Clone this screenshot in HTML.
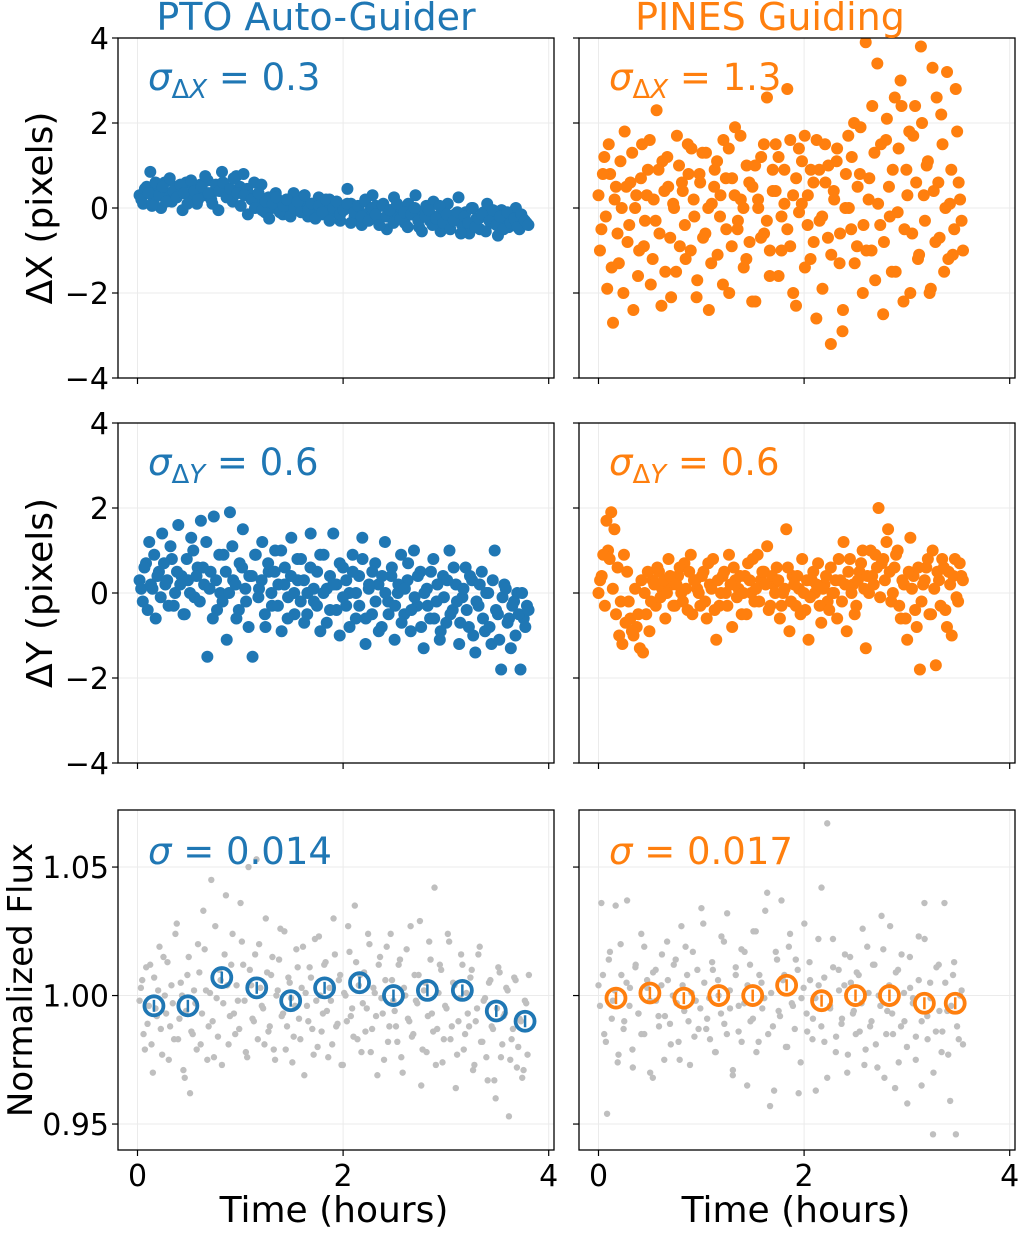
<!DOCTYPE html>
<html><head><meta charset="utf-8"><style>
html,body{margin:0;padding:0;background:#fff}
svg text{font-family:"DejaVu Sans","Liberation Sans",sans-serif}
</style></head><body>
<svg id="fig" width="1020" height="1228" viewBox="0 0 1020 1228" xmlns="http://www.w3.org/2000/svg"></svg>
<script>
// ---- data ----
const xTicks=[0,2,4];
const dTicks=[-4,-2,0,2,4];
const fTicks=[0.95,1.00,1.05];
// even frames
const dxPto=[0.3,0.1,0.5,0.85,0.2,0.4,0.0,0.6,0.3,0.15,0.5,0.35,-0.05,0.6,0.25,0.45,0.1,0.55,0.3,0.65,0.2,0.4,-0.05,0.85,0.5,0.3,0.15,0.75,0.5,0.8,0.45,0.3,0.6,0.2,0.55,-0.1,0.25,0.0,0.35,0.1,-0.15,0.2,0.05,0.35,-0.05,0.15,0.3,-0.2,0.1,0.0,0.25,-0.15,0.05,0.2,-0.1,0.15,-0.3,0.05,0.45,0.1,-0.2,0.0,-0.4,0.2,-0.1,0.3,0.05,-0.25,0.1,-0.5,-0.05,0.25,-0.2,0.0,-0.35,0.1,-0.15,0.3,-0.45,-0.1,0.05,-0.3,0.15,-0.2,-0.55,-0.05,0.1,-0.3,-0.15,0.25,-0.4,-0.1,-0.6,0.0,-0.25,-0.5,-0.1,0.1,-0.35,-0.2,-0.65,-0.05,-0.3,-0.45,-0.15,0.0,-0.5,-0.25,-0.35];
const dxPines=[0.3,-0.5,1.2,-1.9,0.8,-2.7,0.5,-1.3,0.0,1.8,-0.8,0.6,-2.4,0.3,-1.0,1.5,-0.3,0.9,-1.8,0.2,2.3,-0.6,1.1,-1.5,0.5,-2.1,0.0,1.7,-0.9,0.4,-1.2,0.8,1.4,-0.2,-1.7,0.6,-0.7,1.3,-2.4,0.1,0.9,-1.1,0.3,1.6,-0.5,-2.0,0.7,1.9,-0.3,0.2,-1.4,1.0,-0.8,0.5,-2.2,0.0,1.2,-0.6,2.6,-1.0,0.4,1.5,-1.6,-0.2,0.9,2.8,-0.9,0.3,-2.3,1.4,0.1,1.7,-0.4,-1.2,0.6,-2.6,0.9,-0.2,1.5,-0.7,-3.2,0.4,1.1,-1.3,-2.9,0.0,1.7,-0.5,2.0,-0.9,0.8,-2.0,3.9,0.2,-1.0,1.3,3.4,-0.4,-2.5,1.6,0.5,-1.5,2.6,-0.1,3.0,-2.2,0.9,1.8,-0.6,2.4,-1.2,3.8,0.3,1.0,-2.0,3.3,-0.8,0.6,2.2,-1.5,3.2,0.1,-1.1,2.8,0.6,-0.3];
const dyPto=[0.3,-0.2,0.7,1.2,0.1,-0.6,0.5,1.4,0.2,-0.3,0.8,0.0,1.6,0.4,-0.5,0.3,1.3,-0.1,0.6,1.7,0.2,-1.5,0.5,1.8,-0.4,0.0,0.9,-1.1,1.9,0.3,-0.6,0.7,1.5,-0.2,0.4,-1.5,0.9,0.1,1.2,-0.8,0.5,-0.3,1.0,0.2,-0.9,0.6,-0.1,1.3,-0.5,0.3,0.8,-0.7,0.0,1.4,-0.2,0.5,-0.9,0.9,0.1,-0.4,1.4,0.2,-1.0,0.6,-0.3,0.0,0.9,-0.6,0.4,1.3,-1.2,0.1,-0.5,0.7,0.2,-0.8,1.2,-0.2,0.4,-1.1,0.0,0.9,-0.5,0.3,-0.9,1.0,-0.3,0.5,-1.3,0.1,-0.6,0.8,-0.2,-1.1,0.4,-0.7,1.0,-0.4,0.2,-1.2,-0.1,0.6,-0.8,0.3,-1.4,-0.3,0.5,-0.9,0.0,-1.2,1.0,-0.5,-1.8,0.2,-0.7,-1.3,-0.2,0.0,-1.8,-0.6,-0.3];
const dyPines=[0.0,0.4,-0.3,1.0,1.9,1.5,0.6,-0.2,0.9,0.5,-0.6,-1.0,-0.8,-1.3,-1.4,-0.5,-0.9,0.3,-0.3,0.5,0.1,-0.6,0.8,0.2,-0.3,0.4,0.0,0.7,-0.4,0.9,0.3,0.1,-0.3,0.5,-0.6,0.2,0.8,-1.1,-0.3,0.4,0.0,0.9,-0.8,0.3,0.1,-0.5,0.4,0.7,0.0,-0.2,0.9,0.3,0.5,1.1,-0.3,0.2,0.6,-0.6,0.0,1.5,-0.9,0.4,-0.3,0.1,0.8,-0.4,-1.1,0.3,0.0,0.7,-0.7,0.2,-0.2,0.6,0.0,-0.6,0.3,1.2,-0.9,0.8,0.2,-0.3,0.5,1.0,-1.3,0.0,0.4,0.9,2.0,0.7,0.3,1.5,-0.2,0.6,1.0,-0.6,0.2,-1.1,1.3,0.4,-0.8,-1.8,0.2,0.6,-0.5,1.0,-1.7,0.3,0.8,-0.4,0.5,-1.0,0.8,-0.2,0.4];
const fluxPto=[0.998,1.006,0.979,0.989,1.012,0.970,0.995,1.002,0.987,1.015,0.993,0.975,1.004,0.983,1.028,0.991,1.000,0.968,1.008,0.962,0.985,0.997,1.020,0.981,1.033,1.002,0.988,1.045,0.976,0.999,1.010,0.973,1.016,1.004,0.992,1.024,0.985,0.998,1.036,1.012,0.978,1.050,1.004,0.990,1.053,1.020,0.996,0.981,1.009,0.988,1.015,0.975,1.002,1.026,0.993,0.979,1.007,0.999,0.984,1.018,0.991,1.003,0.969,0.996,1.011,0.987,1.022,0.980,1.000,0.993,1.013,0.976,0.998,1.030,0.988,1.006,0.973,1.001,0.990,1.017,0.995,1.035,0.983,1.008,0.997,0.986,1.024,0.978,1.003,0.992,1.012,0.999,0.975,1.019,0.988,1.006,0.994,0.982,1.014,0.970,1.000,0.991,1.027,0.985,0.998,1.008,0.965,1.002,0.978,1.021,0.993,1.042,0.987,1.012,0.974,0.996,1.024,0.983,1.005,0.964,0.990,1.016,0.979,1.001,0.988,1.010,0.973,0.995,1.019,0.982,0.999,0.967,1.006,0.987,0.960,1.011,0.976,0.992,1.003,0.953,0.983,1.007,0.972,0.991,0.968,0.998,0.977];
const fluxPines=[1.004,1.036,0.985,0.954,1.017,0.998,1.035,0.977,1.008,0.990,1.037,1.003,0.972,1.012,0.993,0.985,1.019,1.006,0.998,0.968,1.010,0.992,1.004,0.975,1.021,0.989,1.000,1.014,0.982,1.027,0.994,1.008,0.973,1.017,0.998,0.987,1.034,1.005,0.991,0.983,1.010,0.978,1.000,1.023,0.989,1.032,0.995,0.971,1.008,0.986,1.018,0.997,0.965,1.012,0.991,1.025,0.982,1.005,0.999,1.040,0.957,0.988,1.017,0.994,1.037,1.008,0.980,1.024,0.996,1.014,0.962,0.999,1.028,0.986,1.006,0.991,0.963,1.004,1.042,0.982,1.067,0.996,1.022,0.978,1.010,0.989,1.004,0.970,1.015,0.993,0.985,1.008,0.997,0.973,1.019,0.988,1.012,0.981,1.000,1.031,0.968,0.994,1.027,0.985,1.009,0.974,1.016,0.990,0.958,1.003,0.999,0.984,1.023,0.965,1.036,0.992,1.005,0.946,0.986,1.012,0.978,1.036,0.994,0.959,1.008,0.946,0.983,1.002];
// odd frames
const dxPtoB=[0.2,0.45,0.35,0.05,0.6,0.3,0.5,0.15,0.7,0.4,0.25,0.55,0.35,0.1,0.65,0.4,0.2,0.5,0.75,0.35,0.1,0.55,0.4,0.6,0.25,0.45,0.7,0.35,0.05,0.3,-0.15,0.2,0.0,0.35,-0.05,0.15,-0.25,0.1,0.25,-0.1,0.05,0.2,-0.2,0.0,0.15,-0.1,0.3,-0.05,0.1,-0.25,0.05,-0.1,0.2,-0.3,0.0,0.15,-0.15,-0.05,0.1,-0.35,-0.1,0.05,-0.2,0.15,-0.3,0.0,-0.15,-0.4,0.05,-0.2,-0.05,-0.35,0.1,-0.25,-0.1,-0.45,-0.15,0.0,-0.3,-0.55,-0.2,-0.05,-0.4,-0.25,0.05,-0.35,-0.15,-0.5,-0.3,-0.1,-0.6,-0.2,-0.35,0.0,-0.45,-0.25,-0.15,-0.55,-0.3,-0.05,-0.4,-0.2,-0.5,-0.1,-0.35,-0.25,-0.45,-0.15,-0.3,-0.4];
const dxPinesB=[-1.0,0.8,-0.2,1.5,-1.4,0.2,-0.6,1.1,-2.0,0.5,-0.4,1.3,0.0,-1.6,0.7,-0.9,0.3,1.6,-1.2,-0.3,0.9,-2.3,0.4,1.2,-0.7,0.1,-1.5,1.0,0.6,-0.4,1.5,-1.0,0.2,-2.1,0.8,1.3,-0.6,0.0,-1.3,0.5,1.1,-0.2,-1.8,0.7,1.4,-0.9,0.3,-0.5,1.7,0.0,-1.2,0.6,-2.2,1.0,0.2,-0.7,1.5,-0.3,-1.6,0.9,0.4,1.2,-1.0,0.1,-0.5,1.6,-2.0,0.7,-0.1,1.1,-1.4,0.3,0.9,-0.8,1.6,-0.3,-1.9,0.6,1.0,-1.1,0.2,1.4,-0.6,-2.4,0.8,0.0,1.2,-1.3,0.5,1.9,-0.4,-1.0,0.7,2.4,-1.7,0.1,1.5,-0.8,2.1,-0.2,0.9,-1.5,1.4,2.4,-0.5,0.3,-2.0,1.7,0.6,-1.1,2.0,-0.3,1.1,-1.9,0.4,2.6,-0.7,1.5,0.0,-1.2,0.9,-0.5,1.8,0.2,-1.0];
const dyPtoB=[0.1,0.6,-0.4,0.2,0.9,0.4,-0.1,0.7,0.3,1.1,-0.3,0.5,0.2,-0.5,0.8,0.0,1.0,0.4,-0.2,0.6,1.2,0.1,-0.6,0.3,0.9,-0.2,0.5,0.0,1.1,0.2,-0.4,0.6,0.1,-0.8,0.4,0.9,-0.1,0.3,-0.5,0.7,0.0,0.5,-0.3,1.0,0.2,-0.6,0.4,0.0,0.8,-0.2,0.3,-0.5,0.6,0.1,-0.3,0.9,0.0,-0.7,0.4,0.2,-0.4,0.7,-0.1,0.3,-0.8,0.5,0.0,-0.3,0.8,-0.6,0.2,0.5,-0.2,-0.9,0.4,0.0,-0.5,0.6,-0.3,0.2,-0.7,0.1,0.7,-0.4,-0.1,0.4,-0.8,0.0,-0.3,0.5,-0.6,0.2,-0.9,-0.1,0.3,-0.5,0.6,-0.2,-0.7,0.1,-0.4,0.4,-1.0,-0.2,0.2,-0.6,0.0,-0.8,0.3,-0.4,-1.1,-0.1,0.1,-0.6,-0.3,-1.0,-0.5,0.0,-0.8,-0.4];
const dyPinesB=[0.3,0.9,1.7,0.8,0.1,-0.5,-1.0,-1.2,-0.7,-0.2,-0.9,0.1,-0.5,0.3,0.0,0.5,-0.2,0.2,0.6,-0.1,0.3,0.0,0.4,-0.3,0.2,0.6,-0.2,0.1,0.5,-0.5,0.3,0.0,0.4,-0.2,0.7,0.1,-0.4,0.3,0.0,0.5,-0.3,0.2,0.6,-0.1,0.4,0.0,-0.5,0.3,0.8,0.1,-0.2,0.5,0.2,-0.4,0.4,0.0,0.3,-0.3,0.1,0.6,-0.2,0.2,0.4,-0.5,0.0,0.3,-0.1,0.5,0.2,-0.3,0.1,0.4,-0.4,0.0,0.3,0.8,-0.2,0.2,0.5,0.0,-0.5,0.3,0.7,0.1,0.4,1.0,0.2,0.6,-0.1,0.8,1.2,0.5,0.0,0.9,-0.3,0.3,-0.6,0.5,0.1,-0.4,0.6,-0.2,0.3,0.8,-0.5,0.1,0.5,-0.3,0.6,-0.8,0.2,0.4,-0.1,0.7,0.3];
const fluxPtoB=[1.003,0.985,1.011,0.996,0.981,1.007,0.992,1.019,0.977,1.000,1.013,0.988,0.997,1.024,0.983,1.005,0.971,0.994,1.015,0.986,1.002,0.979,1.009,0.993,1.018,0.975,1.001,0.990,1.027,0.984,1.006,0.997,1.039,0.981,1.012,0.993,1.004,0.987,1.021,0.998,0.976,1.010,0.991,1.016,0.983,1.003,0.995,1.030,0.986,1.008,0.979,1.000,1.014,0.992,1.025,0.988,1.005,0.974,0.996,1.011,0.983,1.019,1.001,0.990,1.007,0.977,0.998,1.023,0.986,1.012,0.994,1.003,0.981,1.016,0.989,1.008,0.973,1.000,1.027,0.992,0.984,1.013,1.004,0.978,1.009,0.995,1.020,0.987,1.001,0.969,1.015,0.993,1.006,0.982,1.024,0.998,0.988,1.012,0.976,1.003,1.018,0.990,0.984,1.008,0.997,1.029,0.979,1.005,0.992,1.014,0.986,0.973,1.001,1.010,0.983,0.995,1.021,0.988,1.004,0.977,0.999,1.012,0.985,0.993,1.007,0.971,0.990,1.016,0.982,0.998,0.976,1.005,0.988,0.967,0.995,1.009,0.981,0.993,1.002,0.975,0.987,1.006,0.980,0.990,0.971,0.997,1.008];
const fluxPinesB=[0.996,1.008,0.982,1.014,0.991,1.002,0.974,1.020,0.987,1.005,0.996,0.979,1.011,0.993,1.024,0.985,1.003,0.970,1.009,0.998,0.988,1.016,0.992,1.006,0.981,1.012,0.997,0.975,1.004,1.019,0.990,1.001,0.984,1.010,0.995,1.028,0.987,0.999,1.013,0.978,1.006,0.993,1.021,0.985,1.002,0.969,1.011,0.996,0.982,1.017,1.004,0.990,1.025,0.978,1.008,0.995,1.033,0.985,1.001,0.963,1.014,0.992,1.006,0.980,1.019,0.997,0.987,1.010,0.974,1.003,0.993,1.013,0.983,0.999,1.022,0.988,1.007,0.968,0.995,1.011,0.984,1.002,0.991,1.016,0.977,1.005,0.994,1.009,0.986,1.026,0.979,1.001,0.990,1.012,0.972,0.996,1.018,0.985,1.004,0.993,0.964,1.010,0.988,1.001,0.980,1.015,0.997,0.975,1.006,0.990,1.022,0.983,0.999,0.970,1.011,0.994,0.986,1.005,0.977,0.996,1.013,0.988,1.000,0.981];
const binPtoT=[0.16,0.49,0.82,1.16,1.49,1.82,2.16,2.49,2.82,3.16,3.49,3.77];
const binPtoV=[0.996,0.996,1.007,1.003,0.998,1.003,1.005,1.000,1.002,1.002,0.994,0.990];
const binPinesT=[0.17,0.5,0.83,1.17,1.5,1.83,2.17,2.5,2.83,3.17,3.47];
const binPinesV=[0.999,1.001,0.999,1.000,1.000,1.004,0.998,1.000,1.000,0.997,0.997];
// observation time spans (hours)
const ptoSpan=[0.02,3.82];
const pinesSpan=[0.0,3.56];

const BLUE='#1f77b4', ORANGE='#ff7f0e';
const NS='http://www.w3.org/2000/svg';
const svg=document.getElementById('fig');
function mk(tag,attrs,parent){const e=document.createElementNS(NS,tag);for(const k in attrs)e.setAttribute(k,attrs[k]);(parent||svg).appendChild(e);return e;}

const cols=[{x0:118,x1:554},{x0:579,x1:1015}];
const rows=[{y0:38,y1:378,min:-4,max:4},{y0:423,y1:763,min:-4,max:4},{y0:810,y1:1150,min:0.9399,max:1.0722}];
function xs(c,t){const C=cols[c];const o=C.x0+19.5;return o+t*102.8;}
function ys(r,v){const R=rows[r];return R.y1-(v-R.min)/(R.max-R.min)*(R.y1-R.y0);}

const panels=[
 {r:0,c:0,sets:[dxPto,dxPtoB],span:ptoSpan,color:BLUE,name:'dx-pto'},
 {r:0,c:1,sets:[dxPines,dxPinesB],span:pinesSpan,color:ORANGE,name:'dx-pines'},
 {r:1,c:0,sets:[dyPto,dyPtoB],span:ptoSpan,color:BLUE,name:'dy-pto'},
 {r:1,c:1,sets:[dyPines,dyPinesB],span:pinesSpan,color:ORANGE,name:'dy-pines'},
 {r:2,c:0,sets:[fluxPto,fluxPtoB],span:ptoSpan,color:'#bfbfbf',name:'flux-pto'},
 {r:2,c:1,sets:[fluxPines,fluxPinesB],span:pinesSpan,color:'#bfbfbf',name:'flux-pines'}
];

panels.forEach(p=>{
  const C=cols[p.c],R=rows[p.r];
  const g=mk('g',{});
  
  
  const yt=p.r===2?fTicks:dTicks;
  xTicks.forEach(t=>{const l=mk('line',{x1:xs(p.c,t),x2:xs(p.c,t),y1:R.y0,y2:R.y1,stroke:'#ebebeb','stroke-width':1},g);
    });
  yt.forEach(v=>{const l=mk('line',{x1:C.x0,x2:C.x1,y1:ys(p.r,v),y2:ys(p.r,v),stroke:'#ebebeb','stroke-width':1},g);
    });
  const clipId='clip-'+p.name;
  const cp=mk('clipPath',{id:clipId},g);mk('rect',{x:C.x0,y:R.y0,width:C.x1-C.x0,height:R.y1-R.y0},cp);
  const pg=mk('g',{'clip-path':'url(#'+clipId+')'},g);
  
  
  p.sets.forEach((vals,si)=>{
    const n=vals.length, step=(p.span[1]-p.span[0])/n;
    vals.forEach((v,i)=>{
      const t=p.span[0]+(i+si*0.5)*step;
      const d=mk('circle',{cx:xs(p.c,t),cy:ys(p.r,v),r:p.r===2?3.2:6,fill:p.color},pg);
      
      
    });
  });
  if(p.r===2){
    const bt=p.c===0?binPtoT:binPinesT, bv=p.c===0?binPtoV:binPinesV, col=p.c===0?BLUE:ORANGE;
    bt.forEach((t,i)=>{
      const cx=xs(p.c,t),cy=ys(p.r,bv[i]);
      const e=mk('line',{x1:cx,x2:cx,y1:cy-6,y2:cy+6,stroke:col,'stroke-width':2.5},pg);
      
      const c=mk('circle',{cx:cx,cy:cy,r:9.5,fill:'none',stroke:col,'stroke-width':3.8},pg);
      
    });
  }
  const f=mk('rect',{x:C.x0,y:R.y0,width:C.x1-C.x0,height:R.y1-R.y0,fill:'none',stroke:'#000','stroke-width':1.3},g);
  
  xTicks.forEach(t=>{
    const x=xs(p.c,t);
    const l=mk('line',{x1:x,x2:x,y1:R.y1,y2:R.y1+6,stroke:'#000','stroke-width':1.2},g);
    
    if(p.r===2){const tx=mk('text',{x:x,y:R.y1+36,'font-size':30,'text-anchor':'middle'},g);tx.textContent=t;
      }
  });
  yt.forEach(v=>{
    const y=ys(p.r,v);
    const l=mk('line',{x1:C.x0-6,x2:C.x0,y1:y,y2:y,stroke:'#000','stroke-width':1.2},g);
    
    if(p.c===0){const tx=mk('text',{x:C.x0-9,y:y+11,'font-size':30,'text-anchor':'end'},g);
      tx.textContent=p.r===2?v.toFixed(2):(v<0?'\u2212'+(-v):String(v));
      }
  });
});

svg.insertAdjacentHTML('beforeend',`
<text x="316" y="30" font-size="38" fill="#1f77b4" text-anchor="middle">PTO Auto-Guider</text>
<text x="770" y="30" font-size="38" fill="#ff7f0e" text-anchor="middle">PINES Guiding</text>
<text transform="translate(52,208) rotate(-90)" font-size="36" text-anchor="middle">ΔX (pixels)</text>
<text transform="translate(52,593) rotate(-90)" font-size="36" text-anchor="middle">ΔY (pixels)</text>
<text transform="translate(32,980) rotate(-90)" font-size="34" text-anchor="middle">Normalized Flux</text>
<text x="334" y="1222" font-size="36" text-anchor="middle">Time (hours)</text>
<text x="796" y="1222" font-size="36" text-anchor="middle">Time (hours)</text>
<text x="148" y="90" font-size="37" fill="#1f77b4"><tspan font-style="italic">σ</tspan><tspan font-size="26" dy="8">Δ<tspan font-style="italic">X</tspan></tspan><tspan dy="-8"> = 0.3</tspan></text>
<text x="609" y="90" font-size="37" fill="#ff7f0e"><tspan font-style="italic">σ</tspan><tspan font-size="26" dy="8">Δ<tspan font-style="italic">X</tspan></tspan><tspan dy="-8"> = 1.3</tspan></text>
<text x="148" y="475" font-size="37" fill="#1f77b4"><tspan font-style="italic">σ</tspan><tspan font-size="26" dy="8">Δ<tspan font-style="italic">Y</tspan></tspan><tspan dy="-8"> = 0.6</tspan></text>
<text x="609" y="475" font-size="37" fill="#ff7f0e"><tspan font-style="italic">σ</tspan><tspan font-size="26" dy="8">Δ<tspan font-style="italic">Y</tspan></tspan><tspan dy="-8"> = 0.6</tspan></text>
<text x="148" y="864" font-size="37" fill="#1f77b4"><tspan font-style="italic">σ</tspan> = 0.014</text>
<text x="609" y="864" font-size="37" fill="#ff7f0e"><tspan font-style="italic">σ</tspan> = 0.017</text>
`);
</script>
</body></html>
